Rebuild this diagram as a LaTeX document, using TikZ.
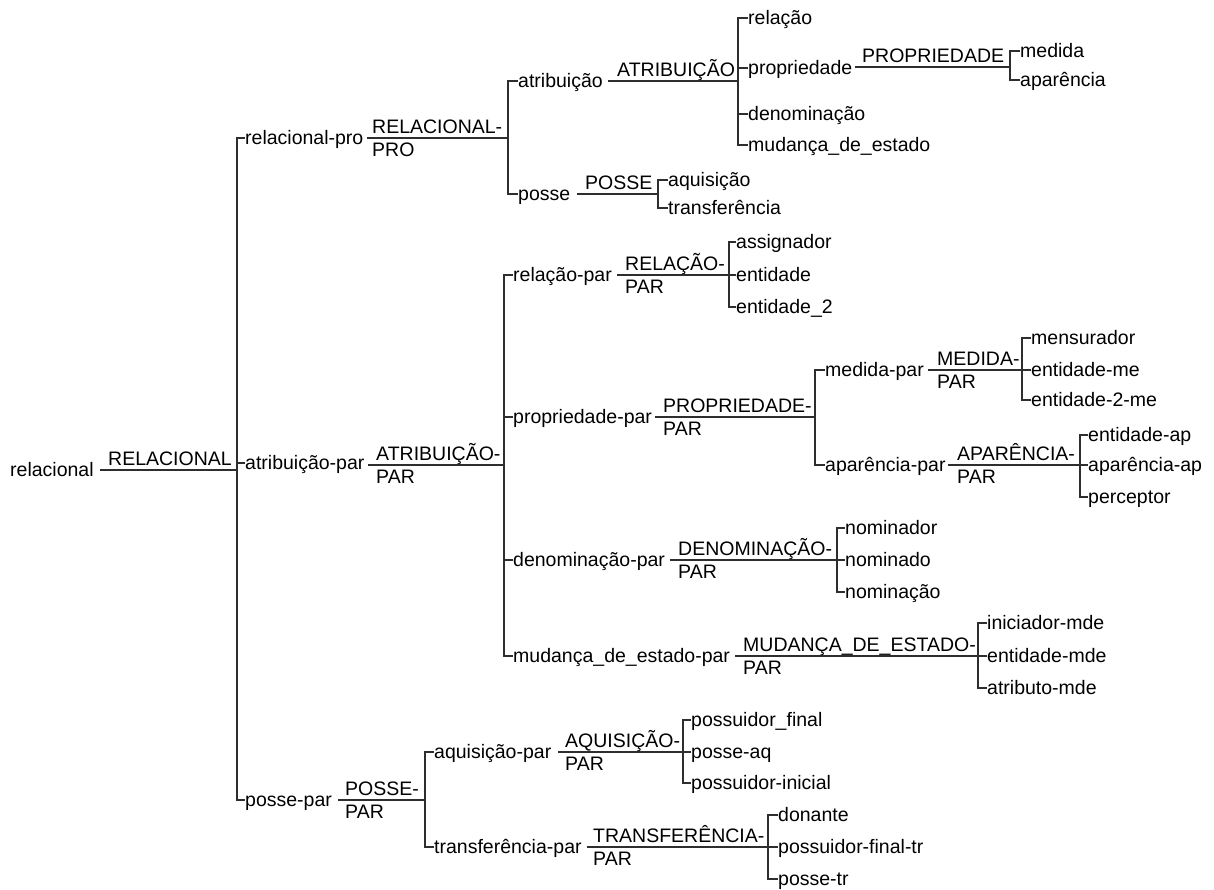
\documentclass[tikz,border=0pt]{standalone}
\usepackage{fontspec}
\setmainfont{Liberation Sans}
\definecolor{linec}{HTML}{2E2E2E}
\begin{document}
\begin{tikzpicture}[x=1pt,y=-1pt,
  font=\fontsize{19.5}{23}\selectfont,
  feat/.style={anchor=west, inner sep=0pt, text height=13pt, text depth=0pt},
  lab/.style={anchor=base west, inner sep=0pt},
  ln/.style={line width=2pt, draw=linec}]
\fill[white] (0,0) rectangle (1214,890);
\useasboundingbox (0,0) rectangle (1214,890);

% ---------- root ----------
\node[feat] (relacional) at (10,469.5) {relacional};
\coordinate (s0) at (100,469.5);
\coordinate (b0) at (236.5,469.5);
\node[lab] (lRel) at (108,465) {RELACIONAL};
\draw[ln] (s0) -- (b0);

\node[feat] (relpro) at (245,138) {relacional-pro};
\node[feat] (atrpar) at (245,463) {atribuição-par};
\node[feat] (possepar) at (245,800) {posse-par};
\draw[ln] (relpro.west) -| (b0) |- (possepar.west);
\draw[ln] (atrpar.west) -- (atrpar.west -| b0);

% ---------- relacional-pro ----------
\coordinate (s1) at (367,138);
\coordinate (b1) at (508,138);
\draw[ln] (s1) -- (b1);
\node[lab] (lRelPro1) at (372,133.3) {RELACIONAL-};
\node[lab] (lRelPro2) at (372,156.7) {PRO};
\node[feat] (atribuicao) at (518,81) {atribuição};
\node[feat] (posse) at (518,194) {posse};
\draw[ln] (atribuicao.west) -| (b1) |- (posse.west);

% atribuicao
\coordinate (s2) at (608,81);
\coordinate (b2) at (738,81);
\draw[ln] (s2) -- (b2);
\node[lab] (lAtr) at (617,76.3) {ATRIBUIÇÃO};
\node[feat] (relacao) at (748,18) {relação};
\node[feat] (propriedade) at (748,68) {propriedade};
\node[feat] (denominacao) at (748,114) {denominação};
\node[feat] (mudanca) at (748,145) {mudança\_de\_estado};
\draw[ln] (relacao.west) -| (b2) |- (mudanca.west);
\draw[ln] (propriedade.west) -- (propriedade.west -| b2);
\draw[ln] (denominacao.west) -- (denominacao.west -| b2);

% propriedade
\coordinate (s3) at (855,67);
\coordinate (b3) at (1010,67);
\draw[ln] (s3) -- (b3);
\node[lab] (lProp) at (862,62.3) {PROPRIEDADE};
\node[feat] (medida) at (1020,51) {medida};
\node[feat] (aparencia) at (1020,80) {aparência};
\draw[ln] (medida.west) -| (b3) |- (aparencia.west);

% posse
\coordinate (s4) at (577,194);
\coordinate (b4) at (658,194);
\draw[ln] (s4) -- (b4);
\node[lab] (lPosse) at (585,189.3) {POSSE};
\node[feat] (aquisicao) at (668,180) {aquisição};
\node[feat] (transferencia) at (668,208) {transferência};
\draw[ln] (aquisicao.west) -| (b4) |- (transferencia.west);

% ---------- atribuicao-par ----------
\coordinate (s5) at (368,465);
\coordinate (b5) at (504,465);
\draw[ln] (s5) -- (b5);
\node[lab] (lAtrPar1) at (376,460.3) {ATRIBUIÇÃO-};
\node[lab] (lAtrPar2) at (376,483.7) {PAR};
\node[feat] (relacaopar) at (513,275) {relação-par};
\node[feat] (propriedadepar) at (513,417) {propriedade-par};
\node[feat] (denominacaopar) at (513,560) {denominação-par};
\node[feat] (mudancapar) at (513,656) {mudança\_de\_estado-par};
\draw[ln] (relacaopar.west) -| (b5) |- (mudancapar.west);
\draw[ln] (propriedadepar.west) -- (propriedadepar.west -| b5);
\draw[ln] (denominacaopar.west) -- (denominacaopar.west -| b5);

% relacao-par
\coordinate (s6) at (617,275);
\coordinate (b6) at (729,275);
\draw[ln] (s6) -- (b6);
\node[lab] (lRelPar1) at (625,270.3) {RELAÇÃO-};
\node[lab] (lRelPar2) at (625,293.7) {PAR};
\node[feat] (assignador) at (736,242) {assignador};
\node[feat] (entidade) at (736,275) {entidade};
\node[feat] (entidade2) at (736,307) {entidade\_2};
\draw[ln] (assignador.west) -| (b6) |- (entidade2.west);
\draw[ln] (entidade.west) -- (entidade.west -| b6);

% propriedade-par
\coordinate (s7) at (655,417);
\coordinate (b7) at (815,417);
\draw[ln] (s7) -- (b7);
\node[lab] (lPropPar1) at (663,412.3) {PROPRIEDADE-};
\node[lab] (lPropPar2) at (663,435.7) {PAR};
\node[feat] (medidapar) at (825,370) {medida-par};
\node[feat] (aparenciapar) at (825,465) {aparência-par};
\draw[ln] (medidapar.west) -| (b7) |- (aparenciapar.west);

% medida-par
\coordinate (s8) at (928,370);
\coordinate (b8) at (1022,370);
\draw[ln] (s8) -- (b8);
\node[lab] (lMedPar1) at (937,365.3) {MEDIDA-};
\node[lab] (lMedPar2) at (937,388.7) {PAR};
\node[feat] (mensurador) at (1031,338) {mensurador};
\node[feat] (entidademe) at (1031,370) {entidade-me};
\node[feat] (entidade2me) at (1031,400) {entidade-2-me};
\draw[ln] (mensurador.west) -| (b8) |- (entidade2me.west);
\draw[ln] (entidademe.west) -- (entidademe.west -| b8);

% aparencia-par
\coordinate (s9) at (948,465);
\coordinate (b9) at (1080,465);
\draw[ln] (s9) -- (b9);
\node[lab] (lApPar1) at (957,460.3) {APARÊNCIA-};
\node[lab] (lApPar2) at (957,483.7) {PAR};
\node[feat] (entidadeap) at (1088,435) {entidade-ap};
\node[feat] (aparenciaap) at (1088,465) {aparência-ap};
\node[feat] (perceptor) at (1088,497) {perceptor};
\draw[ln] (entidadeap.west) -| (b9) |- (perceptor.west);
\draw[ln] (aparenciaap.west) -- (aparenciaap.west -| b9);

% denominacao-par
\coordinate (s10) at (670,560);
\coordinate (b10) at (837,560);
\draw[ln] (s10) -- (b10);
\node[lab] (lDenPar1) at (678,555.3) {DENOMINAÇÃO-};
\node[lab] (lDenPar2) at (678,578.7) {PAR};
\node[feat] (nominador) at (845,528) {nominador};
\node[feat] (nominado) at (845,560) {nominado};
\node[feat] (nominacao) at (845,592) {nominação};
\draw[ln] (nominador.west) -| (b10) |- (nominacao.west);
\draw[ln] (nominado.west) -- (nominado.west -| b10);

% mudanca_de_estado-par
\coordinate (s11) at (735,656);
\coordinate (b11) at (978,656);
\draw[ln] (s11) -- (b11);
\node[lab] (lMudPar1) at (743,651.3) {MUDANÇA\_DE\_ESTADO-};
\node[lab] (lMudPar2) at (743,674.7) {PAR};
\node[feat] (iniciador) at (987,623) {iniciador-mde};
\node[feat] (entidademde) at (987,656) {entidade-mde};
\node[feat] (atributo) at (987,688) {atributo-mde};
\draw[ln] (iniciador.west) -| (b11) |- (atributo.west);
\draw[ln] (entidademde.west) -- (entidademde.west -| b11);

% ---------- posse-par ----------
\coordinate (s12) at (338,800);
\coordinate (b12) at (425,800);
\draw[ln] (s12) -- (b12);
\node[lab] (lPossePar1) at (345,795.3) {POSSE-};
\node[lab] (lPossePar2) at (345,818.7) {PAR};
\node[feat] (aquisicaopar) at (434,752) {aquisição-par};
\node[feat] (transferenciapar) at (434,847) {transferência-par};
\draw[ln] (aquisicaopar.west) -| (b12) |- (transferenciapar.west);

% aquisicao-par
\coordinate (s13) at (558,752);
\coordinate (b13) at (683,752);
\draw[ln] (s13) -- (b13);
\node[lab] (lAqPar1) at (565,747.3) {AQUISIÇÃO-};
\node[lab] (lAqPar2) at (565,770.7) {PAR};
\node[feat] (possfinal) at (691,720) {possuidor\_final};
\node[feat] (posseaq) at (691,752) {posse-aq};
\node[feat] (possinicial) at (691,783) {possuidor-inicial};
\draw[ln] (possfinal.west) -| (b13) |- (possinicial.west);
\draw[ln] (posseaq.west) -- (posseaq.west -| b13);

% transferencia-par
\coordinate (s14) at (587,847);
\coordinate (b14) at (768,847);
\draw[ln] (s14) -- (b14);
\node[lab] (lTrPar1) at (593,842.3) {TRANSFERÊNCIA-};
\node[lab] (lTrPar2) at (593,865.7) {PAR};
\node[feat] (donante) at (778,815) {donante};
\node[feat] (possfinaltr) at (778,847) {possuidor-final-tr};
\node[feat] (possetr) at (778,879) {posse-tr};
\draw[ln] (donante.west) -| (b14) |- (possetr.west);
\draw[ln] (possfinaltr.west) -- (possfinaltr.west -| b14);
\end{tikzpicture}
\end{document}
